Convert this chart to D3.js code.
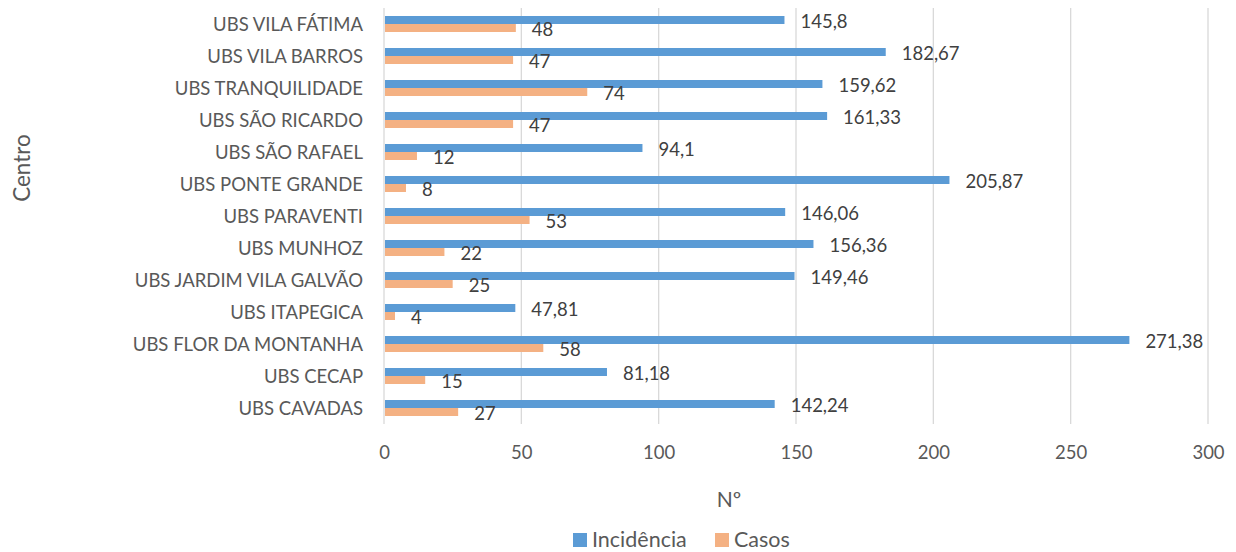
<!DOCTYPE html>
<html>
<head>
<meta charset="utf-8">
<script src="https://cdn.jsdelivr.net/npm/d3@7"></script>
<style>
  html, body { margin: 0; padding: 0; background: #fff; }
  svg { display: block; font-family: Lato, "Open Sans", sans-serif; }
</style>
</head>
<body>
<svg id="chart" width="1236" height="552"></svg>
<script>
const categories = ["UBS VILA FÁTIMA","UBS VILA BARROS","UBS TRANQUILIDADE","UBS SÃO RICARDO","UBS SÃO RAFAEL","UBS PONTE GRANDE","UBS PARAVENTI","UBS MUNHOZ","UBS JARDIM VILA GALVÃO","UBS ITAPEGICA","UBS FLOR DA MONTANHA","UBS CECAP","UBS CAVADAS"];
const incidencia = [145.8,182.67,159.62,161.33,94.1,205.87,146.06,156.36,149.46,47.81,271.38,81.18,142.24];
const casos = [48,47,74,47,12,8,53,22,25,4,58,15,27];
const incidenciaLabels = ["145,8","182,67","159,62","161,33","94,1","205,87","146,06","156,36","149,46","47,81","271,38","81,18","142,24"];
const casosLabels = ["48","47","74","47","12","8","53","22","25","4","58","15","27"];
const xTicks = [0,50,100,150,200,250,300];
const seriesNames = ["Incidência","Casos"];
const seriesColors = ["#5B9BD5","#F4B183"];

const svg = d3.select("#chart");
const pLeft = 384, pRight = 1208, pTop = 8, pBottom = 424;
const textColor = "#595959";
const fs = 18.5;

const x = d3.scaleLinear().domain([0,300]).range([pLeft,pRight]);
const y = d3.scaleBand().domain(categories).range([pTop,pBottom]).paddingInner(0.5).paddingOuter(0.25);
const sub = d3.scaleBand().domain(seriesNames).range([0,y.bandwidth()]);

// gridlines
svg.append("g").selectAll("line").data(xTicks).join("line")
  .attr("x1",d=>x(d)).attr("x2",d=>x(d)).attr("y1",pTop).attr("y2",pBottom)
  .attr("stroke","#d9d9d9").attr("stroke-width",1.3);

// x axis tick labels
const xAxis = d3.axisBottom(x).tickValues(xTicks).tickSize(0).tickPadding(0);
const gx = svg.append("g").attr("transform",`translate(0,${pBottom})`).call(xAxis);
gx.select(".domain").remove();
gx.selectAll("text").attr("font-size",fs).attr("fill",textColor).attr("dy",0).attr("y",35).attr("font-family","Lato, sans-serif");

// y axis labels
const yAxis = d3.axisLeft(y).tickSize(0).tickPadding(21);
const gy = svg.append("g").attr("transform",`translate(${pLeft},0)`).call(yAxis);
gy.select(".domain").remove();
gy.selectAll("text").attr("font-size",fs).attr("fill",textColor).attr("dy","0.38em").attr("font-family","Lato, sans-serif");

const data = [incidencia, casos];
const labels = [incidenciaLabels, casosLabels];
seriesNames.forEach((s,si)=>{
  const g = svg.append("g");
  g.selectAll("rect").data(categories).join("rect")
    .attr("x",x(0)+1)
    .attr("y",c=>y(c)+sub(s))
    .attr("width",(c,i)=>x(data[si][i])-x(0)-1)
    .attr("height",sub.bandwidth())
    .attr("fill",seriesColors[si]);
  g.selectAll("text").data(categories).join("text")
    .attr("x",(c,i)=>x(data[si][i])+16)
    .attr("y",c=>y(c)+sub(s)+sub.bandwidth()/2)
    .attr("dy","0.44em")
    .attr("font-size",fs).attr("fill","#404040")
    .text((c,i)=>labels[si][i]);
});

// axis titles
svg.append("text").attr("x",729).attr("y",507).attr("text-anchor","middle")
  .attr("font-size",21).attr("fill",textColor).text("Nº");
svg.append("text").attr("transform","translate(30,168) rotate(-90)").attr("text-anchor","middle")
  .attr("font-size",22.5).attr("fill",textColor).text("Centro");

// legend
const leg = svg.append("g");
const legX = [573, 715];
seriesNames.forEach((s,i)=>{
  leg.append("rect").attr("x",legX[i]).attr("y",533).attr("width",14).attr("height",14).attr("fill",seriesColors[i]);
  leg.append("text").attr("x",legX[i]+19).attr("y",547).attr("font-size",21.5).attr("fill",textColor).text(s);
});
</script>
</body>
</html>
